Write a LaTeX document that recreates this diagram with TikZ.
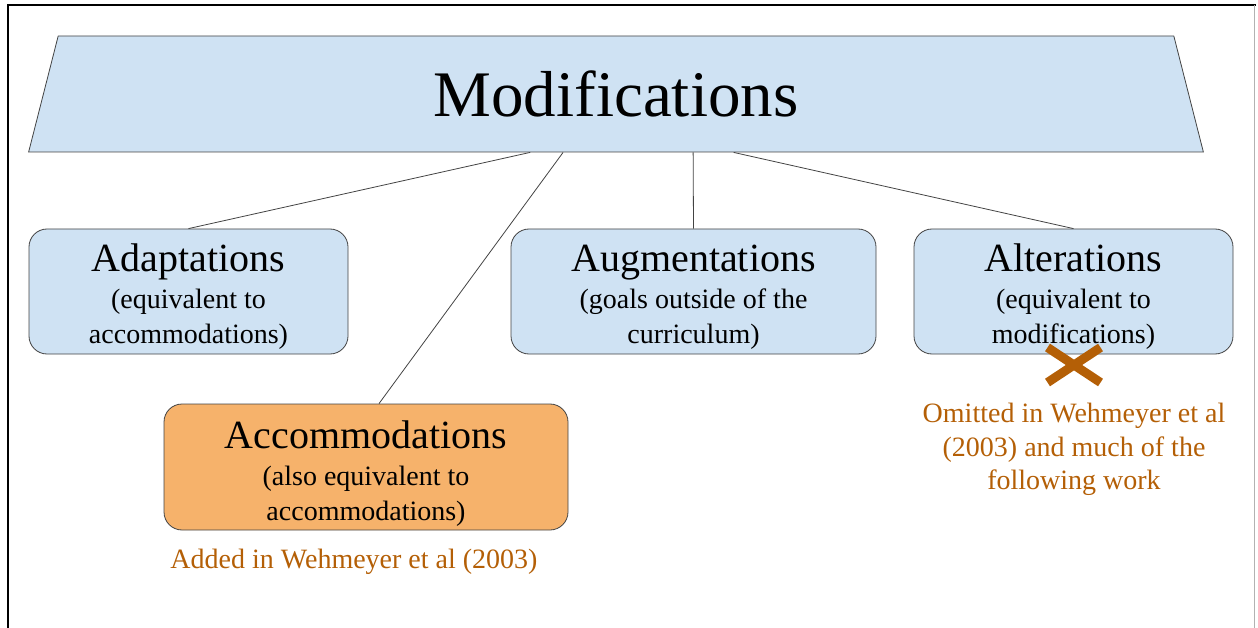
\documentclass[tikz,border=0pt]{standalone}
\usepackage{fontspec}
\setmainfont{Liberation Serif}
\usetikzlibrary{shapes.geometric,shapes.misc,calc}

\definecolor{boxblue}{HTML}{CFE2F3}
\definecolor{boxorange}{HTML}{F6B26B}
\definecolor{notebrown}{HTML}{B45F06}
\definecolor{edgegray}{HTML}{434343}

\tikzstyle{catbox} = [draw=edgegray, line width=0.8pt, fill=boxblue, rounded corners=18pt,
    minimum width=319pt, minimum height=125pt, inner sep=0pt,
    align=center, font=\fontsize{28}{35}\selectfont]
\tikzstyle{newbox} = [catbox, fill=boxorange, minimum width=404pt, minimum height=126pt]
\tikzstyle{notetext} = [text=notebrown, align=center, font=\fontsize{28}{33.5}\selectfont]
\tikzstyle{branch} = [draw=edgegray, line width=0.8pt]

% big first line of a box, with a strut to push the text a bit lower
\newcommand{\boxtitle}[2][37pt]{{\fontsize{40}{40}\selectfont\rule{0pt}{#1}#2}\\[2pt]}

\begin{document}
\begin{tikzpicture}[x=1pt,y=-1pt]
    \useasboundingbox (0,0) rectangle (1258,628);
    % frame
    \draw[line width=2.5pt] (8,628) -- (8,5) -- (1256,5);
    \draw[gray!60, line width=0.8pt] (1254,5) -- (1254,628);

    \node[trapezium, trapezium stretches=true, trapezium angle=79.5,
        draw=edgegray, line width=0.8pt, fill=boxblue, minimum width=1179pt, minimum height=116pt,
        font=\fontsize{65}{65}\selectfont] (mod) at (616,94) {Modifications};

    \node[catbox] (adapt) at (188.5,291.5) {\boxtitle{Adaptations}(equivalent to\\accommodations)};
    \node[catbox, minimum width=365pt] (augment) at (693.5,291.5) {\boxtitle{Augmentations}(goals outside of the\\curriculum)};
    \node[catbox] (alter) at (1073.5,291.5) {\boxtitle{Alterations}(equivalent to\\modifications)};
    \node[newbox] (accom) at (366,467) {\boxtitle[41pt]{Accommodations}(also equivalent to\\accommodations)};

    \draw[branch] ($(mod.bottom left corner)!0.427!(mod.bottom right corner)$) -- (adapt.north);
    \draw[branch] ($(mod.bottom left corner)!0.455!(mod.bottom right corner)$) -- ($(accom.north)+(13,0)$);
    \draw[branch] ($(mod.bottom left corner)!0.5656!(mod.bottom right corner)$) -- (augment.north);
    \draw[branch] ($(mod.bottom left corner)!0.6!(mod.bottom right corner)$) -- (alter.north);

    \node[cross out, draw=notebrown, line width=9pt, minimum width=44pt, minimum height=26pt] (dropped) at (1074,365) {};

    \node[notetext] (addnote) at (354,562) {Added in Wehmeyer et al (2003)};
    \node[notetext] (omitnote) at (1074,449.5) {Omitted in Wehmeyer et al\\(2003) and much of the\\following work};
\end{tikzpicture}
\end{document}
